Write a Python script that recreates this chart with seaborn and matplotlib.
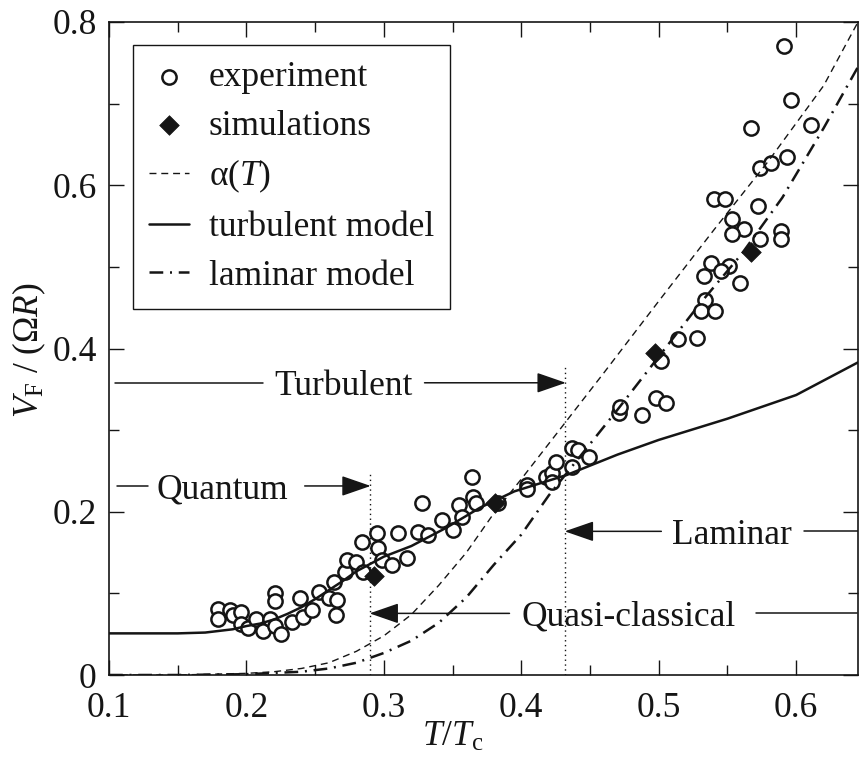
import matplotlib
matplotlib.use("Agg")
import matplotlib.pyplot as plt
import seaborn as sns
import pandas as pd
from matplotlib.ticker import MultipleLocator

# ---------------- data ----------------
exp_x = [0.179, 0.179, 0.188, 0.190, 0.196, 0.196, 0.201, 0.207, 0.212, 0.217,
         0.221, 0.221, 0.221, 0.225, 0.233, 0.239, 0.241, 0.248, 0.253, 0.260,
         0.266, 0.265, 0.264, 0.272, 0.273, 0.280, 0.284, 0.285, 0.295, 0.296,
         0.299, 0.306, 0.310, 0.317, 0.325, 0.328, 0.332, 0.342, 0.350, 0.355,
         0.357, 0.364, 0.365, 0.367, 0.383, 0.404, 0.404, 0.418, 0.422, 0.422,
         0.425, 0.437, 0.441, 0.437, 0.449,
         0.471, 0.472, 0.488, 0.498, 0.505, 0.502, 0.514, 0.528, 0.534, 0.531,
         0.541, 0.538, 0.551, 0.545, 0.533, 0.559, 0.540, 0.548, 0.553, 0.562,
         0.553, 0.572, 0.574, 0.589, 0.589, 0.574, 0.582, 0.593, 0.567, 0.611,
         0.596, 0.591]
exp_y = [0.081, 0.069, 0.080, 0.074, 0.077, 0.062, 0.058, 0.069, 0.054, 0.068,
         0.101, 0.091, 0.060, 0.050, 0.065, 0.094, 0.071, 0.080, 0.102, 0.094,
         0.092, 0.074, 0.114, 0.126, 0.141, 0.138, 0.163, 0.126, 0.174, 0.156,
         0.141, 0.135, 0.174, 0.143, 0.175, 0.211, 0.172, 0.190, 0.178, 0.208,
         0.194, 0.243, 0.218, 0.211, 0.211, 0.233, 0.228, 0.243, 0.248, 0.236,
         0.261, 0.278, 0.276, 0.255, 0.267,
         0.321, 0.328, 0.318, 0.339, 0.333, 0.385, 0.412, 0.413, 0.459, 0.446,
         0.446, 0.505, 0.501, 0.495, 0.489, 0.480, 0.583, 0.583, 0.559, 0.546,
         0.540, 0.574, 0.534, 0.544, 0.534, 0.621, 0.627, 0.635, 0.670, 0.674,
         0.705, 0.770]

sim_x = [0.293, 0.381, 0.497, 0.567]
sim_y = [0.121, 0.211, 0.394, 0.518]

alpha_x = [0.10, 0.15, 0.20, 0.22, 0.24, 0.26, 0.28, 0.30, 0.32, 0.34, 0.36,
           0.38, 0.40, 0.43, 0.46, 0.50, 0.54, 0.58, 0.62, 0.645]
alpha_y = [0.000, 0.000, 0.002, 0.004, 0.008, 0.015, 0.029, 0.048, 0.074, 0.110,
           0.150, 0.198, 0.240, 0.305, 0.370, 0.458, 0.545, 0.630, 0.722, 0.800]

turb_x = [0.10, 0.15, 0.17, 0.19, 0.20, 0.21, 0.22, 0.23, 0.24, 0.25, 0.26, 0.27,
          0.28, 0.29, 0.30, 0.32, 0.345, 0.37, 0.395, 0.433, 0.47, 0.50, 0.55,
          0.60, 0.645]
turb_y = [0.051, 0.051, 0.052, 0.056, 0.060, 0.063, 0.068, 0.075, 0.083, 0.093,
          0.104, 0.115, 0.127, 0.136, 0.145, 0.158, 0.180, 0.205, 0.225, 0.245,
          0.270, 0.288, 0.314, 0.343, 0.383]

lam_x = [0.10, 0.15, 0.20, 0.24, 0.26, 0.28, 0.30, 0.32, 0.34, 0.36, 0.38, 0.40,
         0.42, 0.44, 0.47, 0.50, 0.53, 0.56, 0.59, 0.62, 0.645]
lam_y = [0.000, 0.000, 0.001, 0.004, 0.008, 0.015, 0.027, 0.042, 0.064, 0.095,
         0.135, 0.172, 0.220, 0.262, 0.325, 0.390, 0.455, 0.515, 0.585, 0.670,
         0.745]

# ---------------- style ----------------
sns.set_theme(style="ticks")
FONT = "Liberation Serif"
plt.rcParams["font.family"] = [FONT, "DejaVu Serif"]
plt.rcParams["mathtext.fontset"] = "custom"
plt.rcParams["mathtext.rm"] = FONT
plt.rcParams["mathtext.it"] = FONT + ":italic"
plt.rcParams["mathtext.bf"] = FONT + ":bold"
FS = 25.5
INK = "#151515"

fig = plt.figure(figsize=(8.6, 7.58), dpi=100)
ax = fig.add_axes([109 / 860, 83 / 758, 749 / 860, 653 / 758])

df_exp = pd.DataFrame({"x": exp_x, "y": exp_y})
df_sim = pd.DataFrame({"x": sim_x, "y": sim_y})
df_alpha = pd.DataFrame({"x": alpha_x, "y": alpha_y})
df_turb = pd.DataFrame({"x": turb_x, "y": turb_y})
df_lam = pd.DataFrame({"x": lam_x, "y": lam_y})

sns.scatterplot(data=df_exp, x="x", y="y", ax=ax, marker="o", s=105,
                facecolor="white", edgecolor=INK, linewidth=1.8,
                label="experiment", zorder=3)
sns.lineplot(data=df_alpha, x="x", y="y", ax=ax, sort=False, estimator=None,
             color=INK, lw=1.0, linestyle=(0, (5, 3.5)), label="α($T$)", zorder=4)
sns.lineplot(data=df_turb, x="x", y="y", ax=ax, sort=False, estimator=None,
             color=INK, lw=1.8, linestyle="-", label="turbulent model", zorder=4)
sns.lineplot(data=df_lam, x="x", y="y", ax=ax, sort=False, estimator=None,
             color=INK, lw=1.8, linestyle=(0, (5.5, 2.7, 0.8, 2.7)),
             label="laminar model", zorder=4)
sns.scatterplot(data=df_sim, x="x", y="y", ax=ax, marker="D", s=100,
                color=INK, edgecolor=INK, linewidth=0.5,
                label="simulations", zorder=5)

# axes
ax.set_xlim(0.1, 0.645)
ax.set_ylim(0, 0.8)
ax.xaxis.set_minor_locator(MultipleLocator(0.05))
ax.yaxis.set_minor_locator(MultipleLocator(0.1))
ax.set_xticks([0.1, 0.2, 0.3, 0.4, 0.5, 0.6])
ax.set_xticklabels(["0.1", "0.2", "0.3", "0.4", "0.5", "0.6"])
ax.set_yticks([0, 0.2, 0.4, 0.6, 0.8])
ax.set_yticklabels(["0", "0.2", "0.4", "0.6", "0.8"])
ax.tick_params(which="both", direction="in", top=True, right=True,
               colors=INK, labelsize=FS, width=1.0)
ax.tick_params(which="major", length=11)
ax.tick_params(which="minor", length=7)
ax.tick_params(axis="x", which="major", pad=12)
ax.tick_params(axis="y", which="major", pad=9)
for sp in ax.spines.values():
    sp.set_visible(True)
    sp.set_linewidth(1.2)
    sp.set_color(INK)

ax.set_xlabel("$T/T_\\mathrm{c}$", fontsize=FS, color=INK)
ax.set_ylabel("$V_\\mathrm{F}$ / (Ω$R$)", fontsize=FS, color=INK)
ax.xaxis.set_label_coords(0.459, -0.07)
ax.yaxis.set_label_coords(-0.082, 0.497)

# regime boundaries
ax.plot([0.29, 0.29], [0, 0.248], color=INK, lw=1.0, linestyle=(0, (1, 2.5)), zorder=2)
ax.plot([0.432, 0.432], [0, 0.377], color=INK, lw=1.0, linestyle=(0, (1, 2.5)), zorder=2)

def arrow(x0, x1, y):
    ax.annotate("", xy=(x1, y), xytext=(x0, y),
                arrowprops=dict(arrowstyle="-|>,head_length=1.3,head_width=0.45",
                                color=INK, lw=1.1, shrinkA=0, shrinkB=0,
                                mutation_scale=14), zorder=6)

def seg(x0, x1, y):
    ax.plot([x0, x1], [y, y], color=INK, lw=1.1, zorder=6)

# Turbulent
seg(0.1041, 0.2118, 0.358)
ax.text(0.2707, 0.358, "Turbulent", fontsize=FS, color=INK, ha="center", va="center_baseline")
arrow(0.3296, 0.4324, 0.358)
# Quantum
seg(0.1057, 0.1281, 0.2316)
ax.text(0.1827, 0.2316, "Quantum", fontsize=FS, color=INK, ha="center", va="center_baseline")
arrow(0.2424, 0.2904, 0.2316)
# Laminar
arrow(0.5019, 0.4316, 0.176)
ax.text(0.5536, 0.176, "Laminar", fontsize=FS, color=INK, ha="center", va="center_baseline")
seg(0.6059, 0.645, 0.176)
# Quasi-classical
arrow(0.3914, 0.2896, 0.0755)
ax.text(0.478, 0.0755, "Quasi-classical", fontsize=FS, color=INK, ha="center", va="center_baseline")
seg(0.571, 0.6445, 0.0755)

# legend
handles, labels = ax.get_legend_handles_labels()
order = ["experiment", "simulations", "α($T$)", "turbulent model", "laminar model"]
hmap = dict(zip(labels, handles))
leg = ax.legend([hmap[k] for k in order], order, loc="upper left",
                bbox_to_anchor=(24 / 749, 1 - 23 / 653), borderaxespad=0,
                fontsize=FS, frameon=True, fancybox=False, edgecolor=INK,
                framealpha=1, borderpad=0.45, labelspacing=0.44,
                handlelength=1.13, handletextpad=0.56)
leg.get_frame().set_linewidth(1.0)
for t in leg.get_texts():
    t.set_color(INK)

fig.savefig("out.png", dpi=100)
